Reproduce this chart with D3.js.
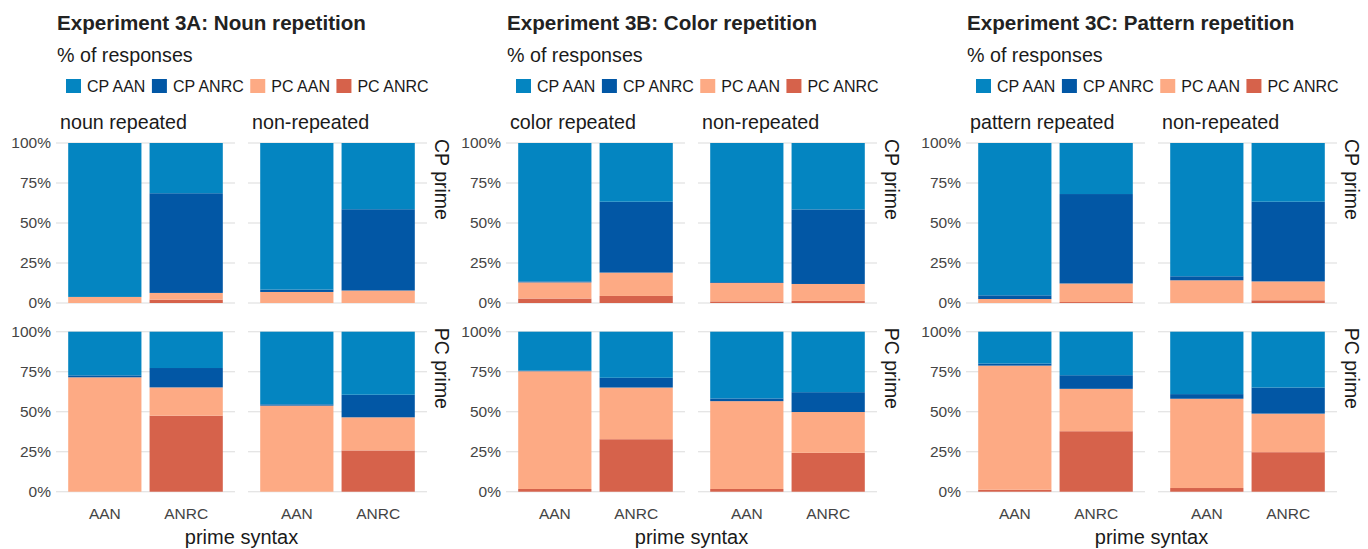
<!DOCTYPE html>
<html>
<head>
<meta charset="utf-8">
<script src="https://cdn.jsdelivr.net/npm/d3@7"></script>
<style>
  html, body { margin: 0; padding: 0; background: #ffffff; }
  svg { display: block; font-family: "Liberation Sans", Arial, Helvetica, sans-serif; }
</style>
</head>
<body>
<svg id="chart" width="1368" height="549"></svg>
<script>
// ---------------- data ----------------
const experiments = ["Experiment 3A: Noun repetition", "Experiment 3B: Color repetition", "Experiment 3C: Pattern repetition"];
const repetitionLabels = [
  ["noun repeated", "non-repeated"],
  ["color repeated", "non-repeated"],
  ["pattern repeated", "non-repeated"]
];
const primes = ["CP prime", "PC prime"];
const syntaxes = ["AAN", "ANRC"];
const responseTypes = ["CP AAN", "CP ANRC", "PC AAN", "PC ANRC"];
const yTicks = [0, 0.25, 0.5, 0.75, 1];
const yAxisTitle = "% of responses";
const xAxisTitle = "prime syntax";

// values in %, order: experiment > prime (CP, PC) > repetition (repeated, non-repeated) > syntax (AAN, ANRC)
const cpAAN = [
  96.2, 31.4, 91.6, 41.4,   27.3, 22.7, 45.4, 39.4,
  86.5, 36.7, 87.0, 41.5,   24.3, 28.8, 41.7, 37.8,
  95.2, 31.9, 83.3, 36.7,   19.9, 27.2, 39.0, 34.9
];
const cpANRC = [
  0.0, 62.3, 1.5, 50.8,     1.2, 12.1, 0.8, 14.1,
  0.6, 44.3, 0.5, 46.6,     0.4, 6.1, 1.7, 12.4,
  2.3, 55.9, 2.5, 49.8,     1.3, 8.5, 2.9, 16.3
];
const pcAAN = [
  3.8, 4.2, 6.9, 7.8,       71.5, 17.7, 53.8, 20.7,
  10.1, 14.6, 11.5, 10.6,   73.6, 32.3, 54.9, 25.5,
  2.5, 11.6, 14.2, 11.8,    77.6, 26.5, 55.8, 24.1
];
const pcANRC = [
  0.0, 2.1, 0.0, 0.0,       0.0, 47.5, 0.0, 25.8,
  2.8, 4.4, 1.0, 1.3,       1.7, 32.8, 1.7, 24.3,
  0.0, 0.6, 0.0, 1.7,       1.2, 37.8, 2.3, 24.7
];

const colors = { "CP AAN": "#0485c1", "CP ANRC": "#0257a5", "PC AAN": "#fdaa84", "PC ANRC": "#d6624b" };

// build rows
const rows = [];
let idx = 0;
experiments.forEach((exp, e) => {
  primes.forEach((pr, p) => {
    [0, 1].forEach(r => {
      syntaxes.forEach(sx => {
        rows.push({
          exp: e, prime: p, rep: r, syntax: sx,
          "CP AAN": cpAAN[idx], "CP ANRC": cpANRC[idx], "PC AAN": pcAAN[idx], "PC ANRC": pcANRC[idx]
        });
        idx++;
      });
    });
  });
});

// ---------------- layout ----------------
const svg = d3.select("#chart");
const expOffsets = [0, 450, 910];
const facetX0 = [56, 248];
const facetW = 179;
const rowY = [{ y0: 303, y100: 143 }, { y0: 491.7, y100: 331.7 }];

const stackKeys = ["PC ANRC", "PC AAN", "CP ANRC", "CP AAN"]; // bottom -> top
const stack = d3.stack().keys(stackKeys).offset(d3.stackOffsetExpand);

experiments.forEach((exp, e) => {
  const off = expOffsets[e];
  const g = svg.append("g");

  // title
  g.append("text").attr("x", off + 57).attr("y", 30)
    .attr("font-size", 20.6).attr("font-weight", "bold").attr("fill", "#222")
    .text(exp);
  g.append("text").attr("x", off + 57).attr("y", 61.5)
    .attr("font-size", 19.7).attr("fill", "#1a1a1a")
    .text(yAxisTitle);

  // legend
  let lx = off + 66;
  responseTypes.forEach(rt => {
    g.append("rect").attr("x", lx).attr("y", 79).attr("width", 15).attr("height", 14)
      .attr("fill", colors[rt]);
    const t = g.append("text").attr("x", lx + 21).attr("y", 86.3)
      .attr("dy", "0.36em").attr("font-size", 16).attr("fill", "#1a1a1a").text(rt);
    lx = lx + 21 + t.node().getComputedTextLength() + 6.5;
  });

  primes.forEach((pr, p) => {
    const y = d3.scaleLinear().domain([0, 1]).range([rowY[p].y0, rowY[p].y100]);
    [0, 1].forEach(r => {
      const fx0 = off + facetX0[r];
      const x = d3.scaleBand().domain(syntaxes).range([fx0, fx0 + facetW])
        .paddingInner(0.1).paddingOuter(0.15);

      // gridlines
      g.append("g").selectAll("line").data(yTicks).join("line")
        .attr("x1", fx0).attr("x2", fx0 + facetW)
        .attr("y1", d => y(d)).attr("y2", d => y(d))
        .attr("stroke", "#dcdcdc").attr("stroke-width", 1.1);

      // bars
      const data = rows.filter(d => d.exp === e && d.prime === p && d.rep === r);
      const series = stack(data);
      const bars = g.append("g");
      series.forEach(s => {
        bars.append("g").attr("fill", colors[s.key])
          .selectAll("rect").data(s).join("rect")
          .attr("x", d => x(d.data.syntax))
          .attr("width", x.bandwidth())
          .attr("y", d => y(d[1]))
          .attr("height", d => Math.max(0, y(d[0]) - y(d[1])));
      });

      // y axis labels (left facet only)
      if (r === 0) {
        const ax = d3.axisLeft(y).tickValues(yTicks).tickFormat(d3.format(".0%")).tickSize(0).tickPadding(5);
        const axg = g.append("g").attr("transform", `translate(${fx0},0)`).call(ax);
        axg.select(".domain").remove();
        axg.selectAll("text").attr("font-size", 15.5).attr("fill", "#444")
          .attr("font-family", "Liberation Sans, Arial, sans-serif");
      }

      // facet strip (top row)
      if (p === 0) {
        g.append("text").attr("x", fx0 + 4).attr("y", 128.7)
          .attr("font-size", 19.7).attr("fill", "#1a1a1a")
          .text(repetitionLabels[e][r]);
      }

      // x axis labels (bottom row)
      if (p === 1) {
        const axb = d3.axisBottom(x).tickSize(0).tickPadding(0);
        const axg = g.append("g").attr("transform", `translate(0,508)`).call(axb);
        axg.select(".domain").remove();
        axg.selectAll("text").attr("font-size", 15.5).attr("fill", "#444")
          .attr("dy", "0.71em")
          .attr("font-family", "Liberation Sans, Arial, sans-serif");
      }
    });

    // right strip
    g.append("text")
      .attr("transform", `translate(${off + 435},${rowY[p].y100 - 4}) rotate(90)`)
      .attr("font-size", 19.5).attr("fill", "#1a1a1a")
      .text(pr);
  });

  // x axis title
  g.append("text")
    .attr("x", off + (facetX0[0] + facetX0[1] + facetW) / 2).attr("y", 543.5)
    .attr("text-anchor", "middle").attr("font-size", 20).attr("fill", "#1a1a1a")
    .text(xAxisTitle);
});
</script>
</body>
</html>
